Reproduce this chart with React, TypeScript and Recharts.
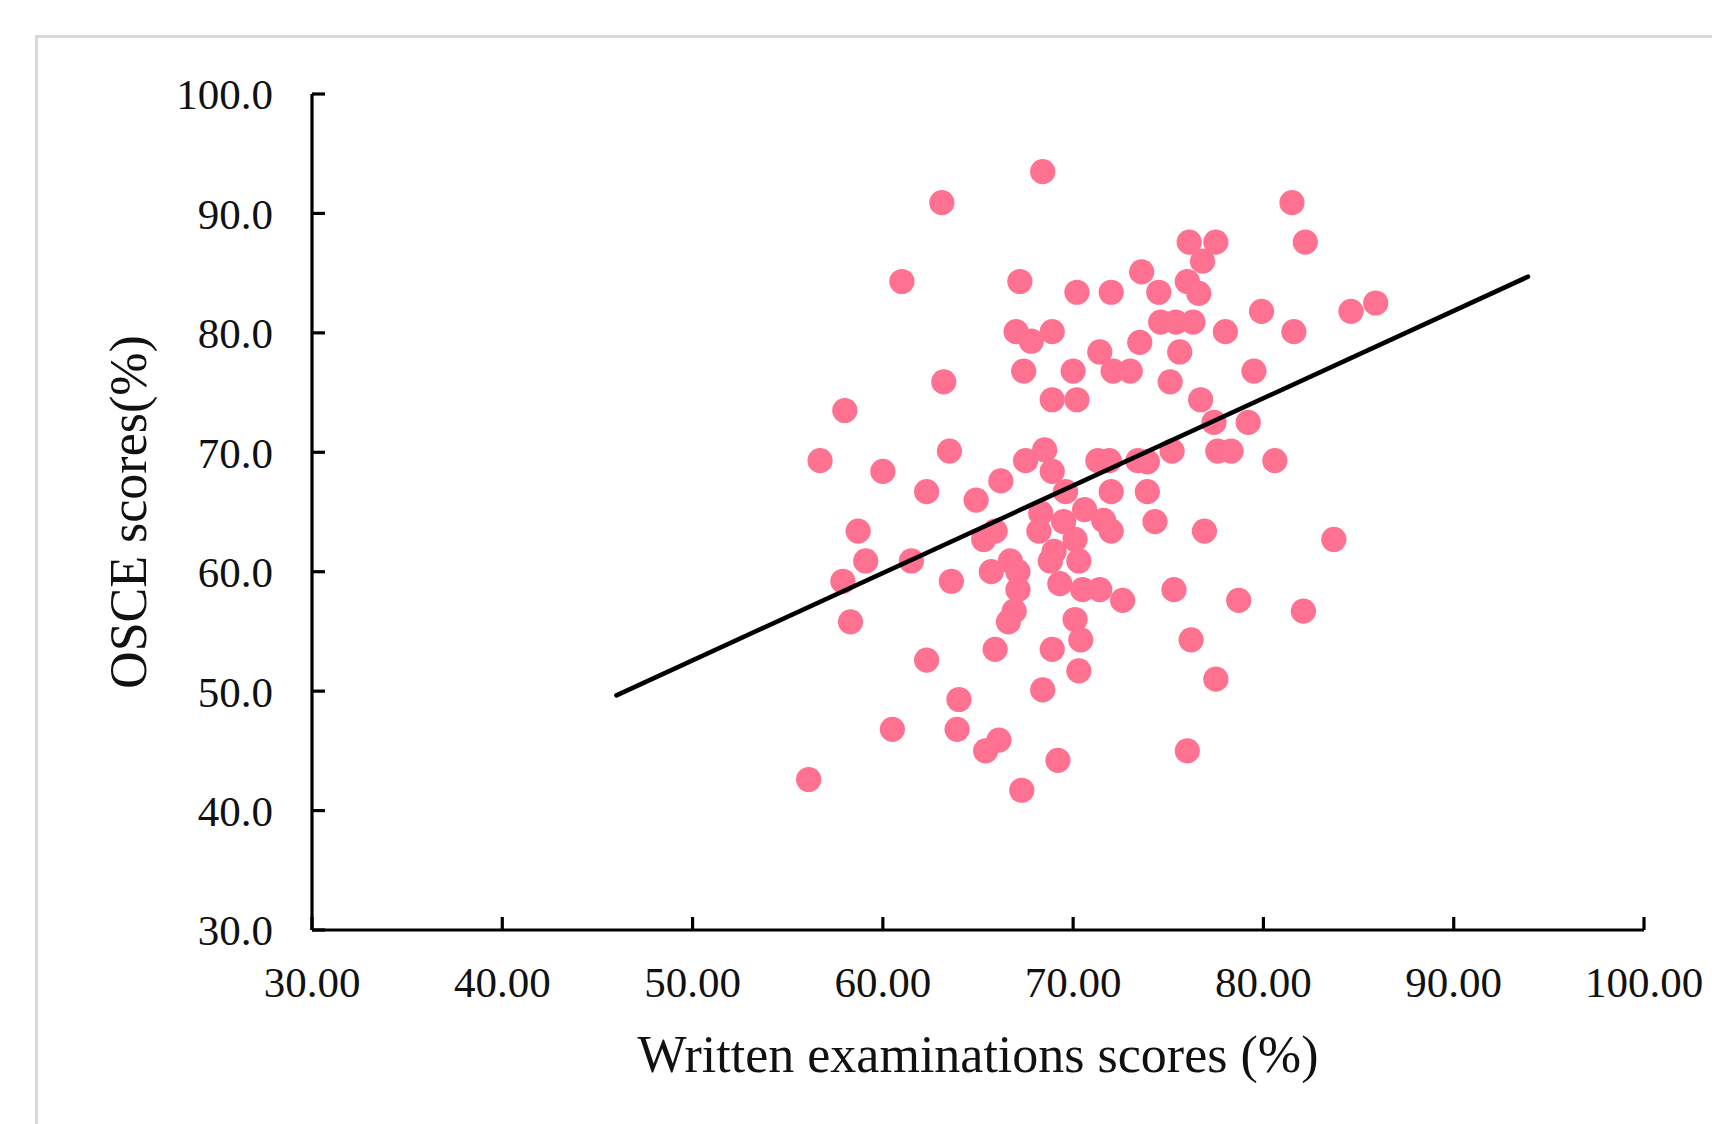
import React from 'react';
import { ScatterChart, Scatter, XAxis, YAxis } from 'recharts';

const writtenScores = [
  68.4, 63.1, 81.5, 76.1, 77.5, 82.2, 76.8, 73.6, 61.0, 67.2,
  76.0, 70.2, 72.0, 74.5, 76.6, 85.9, 84.6, 79.9, 74.6, 75.4,
  76.3, 67.0, 68.9, 78.0, 81.6, 67.8, 73.5, 71.4, 75.6, 67.4,
  70.0, 72.1, 73.0, 79.5, 63.2, 75.1, 68.9, 70.2, 76.7, 58.0,
  77.4, 79.2, 63.5, 68.5, 75.2, 77.6, 78.3, 56.7, 67.5, 71.3,
  71.9, 73.4, 73.9, 80.6, 60.0, 68.9, 66.2, 62.3, 69.6, 72.0,
  73.9, 64.9, 70.6, 68.3, 69.5, 71.6, 74.3, 68.2, 65.9, 58.7,
  72.0, 76.9, 70.1, 65.3, 83.7, 69.0, 66.7, 59.1, 61.5, 68.8,
  70.3, 65.7, 67.1, 57.9, 63.6, 69.3, 67.1, 70.5, 71.4, 75.3,
  72.6, 78.7, 66.9, 82.1, 58.3, 66.6, 70.1, 76.2, 70.4, 65.9,
  68.9, 62.3, 70.3, 77.5, 64.0, 68.4, 60.5, 63.9, 66.1, 65.4,
  76.0, 69.2, 56.1, 67.3,
];

const osceScores = [
  93.5, 90.9, 90.9, 87.6, 87.6, 87.6, 86.0, 85.1, 84.3, 84.3,
  84.3, 83.4, 83.4, 83.4, 83.3, 82.5, 81.8, 81.8, 80.9, 80.9,
  80.9, 80.1, 80.1, 80.1, 80.1, 79.3, 79.2, 78.4, 78.4, 76.8,
  76.8, 76.8, 76.8, 76.8, 75.9, 75.9, 74.4, 74.4, 74.4, 73.5,
  72.5, 72.5, 70.1, 70.2, 70.1, 70.1, 70.1, 69.3, 69.3, 69.3,
  69.3, 69.3, 69.2, 69.3, 68.4, 68.4, 67.6, 66.7, 66.7, 66.7,
  66.7, 66.0, 65.2, 64.9, 64.2, 64.3, 64.2, 63.4, 63.4, 63.4,
  63.4, 63.4, 62.7, 62.7, 62.7, 61.7, 60.9, 60.9, 60.9, 60.9,
  60.9, 60.0, 60.0, 59.2, 59.2, 59.0, 58.5, 58.5, 58.5, 58.5,
  57.6, 57.6, 56.7, 56.7, 55.8, 55.8, 56.0, 54.3, 54.3, 53.5,
  53.5, 52.6, 51.7, 51.0, 49.3, 50.1, 46.8, 46.8, 45.9, 45.0,
  45.0, 44.2, 42.6, 41.7,
];

const fitX = [46.0, 93.9];
const fitY = [49.65, 84.7];

const xTicks = [30, 40, 50, 60, 70, 80, 90, 100];
const yTicks = [30, 40, 50, 60, 70, 80, 90, 100];

const xTitle = 'Written examinations scores (%)';
const yTitle = 'OSCE scores(%)';

const points = writtenScores.map((x, i) => ({ x, y: osceScores[i] }));
const fitLine = fitX.map((x, i) => ({ x, y: fitY[i] }));

const FONT = '"Liberation Serif", "Times New Roman", serif';
const DOT = '#ff7190';

const XTick = (props: any) => {
  const { x, y, payload } = props;
  return (
    <g>
      <line x1={x} y1={y} x2={x} y2={y - 13} stroke="#000" strokeWidth={3.2} />
      <text x={x} y={y + 67} textAnchor="middle" fontFamily={FONT} fontSize={43} fill="#111">
        {Number(payload.value).toFixed(2)}
      </text>
    </g>
  );
};

const YTick = (props: any) => {
  const { x, y, payload } = props;
  return (
    <g>
      <line x1={x} y1={y} x2={x + 13} y2={y} stroke="#000" strokeWidth={3.2} />
      <text x={x - 39} y={y} dy="0.36em" textAnchor="end" fontFamily={FONT} fontSize={43} fill="#111">
        {Number(payload.value).toFixed(1)}
      </text>
    </g>
  );
};

const XTitle = (props: any) => {
  const vb = props.viewBox || { x: 312, y: 930, width: 1332, height: 194 };
  return (
    <text x={vb.x + vb.width / 2} y={vb.y + 142} textAnchor="middle" fontFamily={FONT} fontSize={52} fill="#111">
      {xTitle}
    </text>
  );
};

const YTitle = (props: any) => {
  const vb = props.viewBox || { x: 0, y: 94, width: 312, height: 836 };
  const cx = vb.x + 146;
  const cy = vb.y + vb.height / 2;
  return (
    <text x={cx} y={cy} transform={`rotate(-90, ${cx}, ${cy})`} textAnchor="middle" fontFamily={FONT} fontSize={52} fill="#111">
      {yTitle}
    </text>
  );
};

const Dot = (props: any) => <circle cx={props.cx} cy={props.cy} r={12.6} fill={DOT} />;
const NoDot = () => <g />;

export default function App() {
  return (
    <div style={{ position: 'absolute', left: 0, top: 0, width: 1712, height: 1124, overflow: 'hidden', background: '#fff' }}>
      <div
        style={{
          position: 'absolute',
          left: 35,
          top: 35,
          width: 1800,
          height: 1200,
          border: '3px solid #dadada',
          boxSizing: 'border-box',
        }}
      />
      <div style={{ position: 'absolute', left: 0, top: 0 }}>
        <ScatterChart width={1712} height={1124} margin={{ top: 94, right: 68, bottom: 0, left: 0 }}>
          <XAxis
            type="number"
            dataKey="x"
            domain={[30, 100]}
            ticks={xTicks}
            interval={0}
            allowDataOverflow
            height={194}
            tickSize={0}
            tickMargin={0}
            tickLine={false}
            axisLine={{ stroke: '#000', strokeWidth: 3.2 }}
            tick={<XTick />}
            label={<XTitle />}
          />
          <YAxis
            type="number"
            dataKey="y"
            domain={[30, 100]}
            ticks={yTicks}
            interval={0}
            allowDataOverflow
            width={312}
            tickSize={0}
            tickMargin={0}
            tickLine={false}
            axisLine={{ stroke: '#000', strokeWidth: 3.2 }}
            tick={<YTick />}
            label={<YTitle />}
          />
          <Scatter data={points} shape={<Dot />} isAnimationActive={false} />
          <Scatter
            data={fitLine}
            shape={<NoDot />}
            line={{ stroke: '#000', strokeWidth: 4.6, strokeLinecap: 'round' }}
            isAnimationActive={false}
          />
        </ScatterChart>
      </div>
    </div>
  );
}
